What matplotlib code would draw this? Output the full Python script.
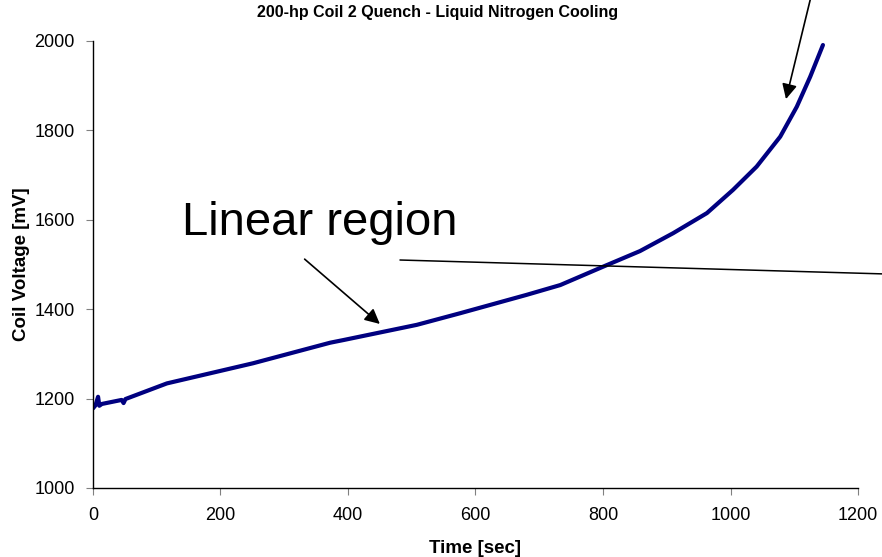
import numpy as np
import matplotlib.pyplot as plt

plt.rcParams['font.family'] = ['Liberation Sans', 'DejaVu Sans']

# coil voltage trace during the quench
time_s = [0, 4, 8, 10, 14, 45, 48, 51, 116, 251, 372, 393, 508, 576, 680,
          733, 800, 858, 910, 963, 1004, 1041, 1078, 1104, 1125, 1145]
voltage_mv = [1178, 1185, 1204, 1184, 1188, 1197, 1190, 1199, 1234, 1279, 1325,
              1331, 1365, 1391, 1432, 1454, 1495, 1530, 1570, 1615, 1667, 1719,
              1786, 1853, 1920, 1991]

# straight line drawn through the linear part
fit_t = [482, 1238]
fit_v = [1510, 1479]

xticks = [0, 200, 400, 600, 800, 1000, 1200]
yticks = [1000, 1200, 1400, 1600, 1800, 2000]

fig = plt.figure(figsize=(8.82, 5.57), dpi=100)
ax = fig.add_axes([0.1054, 0.1239, 0.8674, 0.8025])

ax.plot(time_s, voltage_mv, color='#000080', lw=3.0,
        solid_capstyle='round', solid_joinstyle='round')
ax.plot(fit_t, fit_v, color='black', lw=1.1, clip_on=False)

ax.set_xlim(0, 1200)
ax.set_ylim(1000, 2000)
ax.set_xticks(xticks)
ax.set_yticks(yticks)
ax.tick_params(direction='out', length=5, color='#808080', labelsize=13)
ax.tick_params(axis='x', pad=9)
ax.tick_params(axis='y', pad=8)

for s in ['top', 'right']:
    ax.spines[s].set_visible(False)
for s in ['left', 'bottom']:
    ax.spines[s].set_linewidth(1.0)

fig.text(0.496, 0.978, '200-hp Coil 2 Quench - Liquid Nitrogen Cooling',
         fontsize=11.5, fontweight='bold', ha='center', va='center')
ax.set_xlabel('Time [sec]', fontsize=13.5, fontweight='bold', labelpad=11)
ax.set_ylabel('Coil Voltage [mV]', fontsize=13.5, fontweight='bold', labelpad=3)

ax.text(140, 1593, 'Linear region', fontsize=34, va='center', ha='left')

arrow = dict(arrowstyle='-|>,head_length=0.9,head_width=0.45',
             color='black', lw=1.2, shrinkA=0, shrinkB=0)
ax.annotate('', xy=(450, 1367), xytext=(332, 1512), arrowprops=arrow,
            annotation_clip=False)
ax.annotate('', xy=(1087, 1870), xytext=(1125, 2092), arrowprops=arrow,
            annotation_clip=False)

fig.savefig('out.png', dpi=100)
